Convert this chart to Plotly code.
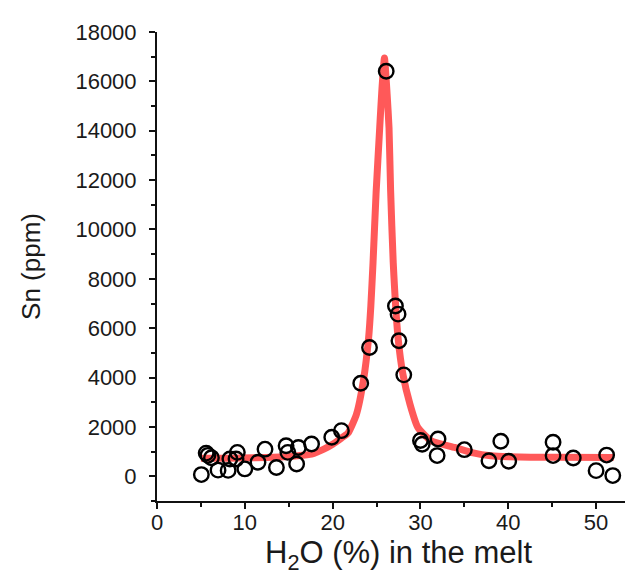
import plotly.graph_objects as go

# Measured data points (H2O %, Sn ppm)
h2o_pts = [5.05, 5.6, 5.8, 6.2, 6.95, 8.1, 8.3, 9.0, 9.15, 10.0, 11.5, 12.3, 13.6, 14.7, 14.9,
           15.9, 16.1, 17.6, 19.9, 21.0, 23.2, 24.2, 26.1, 27.15, 27.45, 27.55, 28.1,
           30.0, 30.2, 31.9, 32.0, 35.0, 37.8, 39.15, 40.05, 45.1, 45.1, 47.4, 50.0, 51.2, 51.9]
sn_pts = [70, 940, 850, 750, 250, 240, 700, 700, 970, 300, 570, 1100, 360, 1240, 970,
          500, 1170, 1310, 1580, 1850, 3770, 5220, 16410, 6900, 6570, 5490, 4110,
          1450, 1300, 840, 1510, 1080, 630, 1420, 610, 1380, 840, 740, 230, 860, 30]

# Fitted curve
fit_x = [5.0, 8.0, 11.0, 14.0, 16.0, 17.6, 19.0, 20.0, 21.0, 21.75, 22.7, 23.5, 24.1, 24.35,
         24.6, 24.95, 25.36, 25.6, 25.9, 26.2, 26.42, 26.6, 26.9, 27.45, 28.0, 28.8, 29.7,
         31.2, 33.9, 36.0, 38.0, 40.0, 45.0, 52.0]
fit_y = [730, 735, 750, 780, 830, 900, 1100, 1300, 1550, 1750, 2500, 3870, 5620, 6900,
         8660, 11500, 14120, 15600, 16950, 15500, 14120, 11600, 8660, 5620, 4140, 2930, 1980,
         1440, 1170, 950, 830, 790, 770, 760]

x_title = "H<sub>2</sub>O (%) in the melt"
y_title = "Sn (ppm)"

fig = go.Figure()
fig.add_trace(go.Scatter(
    x=fit_x, y=fit_y, mode="lines",
    line=dict(color="rgba(255,25,25,0.72)", width=7, shape="spline", smoothing=0.5),
    showlegend=False, hoverinfo="skip"))
fig.add_trace(go.Scatter(
    x=h2o_pts, y=sn_pts, mode="markers",
    marker=dict(symbol="circle-open", size=14.5, color="black", line=dict(width=2.4, color="black")),
    showlegend=False))

FONT = "Liberation Sans, Arial, sans-serif"
tickfont = dict(family=FONT, size=22, color="#1a1a1a")
axis_common = dict(
    showgrid=False, zeroline=False, showline=True, linecolor="#111", linewidth=2,
    ticks="outside", ticklen=6, tickwidth=1.5, tickcolor="#111", tickfont=tickfont,
    tickformat="d",
)

fig.update_layout(
    width=633, height=575,
    margin=dict(l=149, r=1, t=24, b=82),
    plot_bgcolor="white", paper_bgcolor="white",
    xaxis=dict(range=[0, 55], tick0=0, dtick=10, ticklabelstandoff=-5,
               minor=dict(ticks="outside", dtick=5, ticklen=4, tickwidth=1.5, tickcolor="#111"),
               title=dict(text=x_title, standoff=2,
                          font=dict(family=FONT, size=31, color="#1a1a1a")),
               **axis_common),
    yaxis=dict(range=[-1000, 18000], tick0=0, dtick=2000, ticklabelstandoff=8,
               minor=dict(ticks="outside", dtick=1000, ticklen=4, tickwidth=1.5, tickcolor="#111"),
               title=dict(text=y_title, standoff=27,
                          font=dict(family=FONT, size=26, color="#1a1a1a")),
               **axis_common),
)

fig.write_html("out.html")
